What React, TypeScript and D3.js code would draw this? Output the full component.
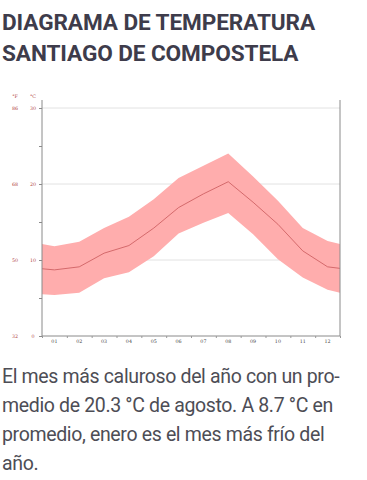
import React, { useRef, useEffect } from 'react';
import * as d3 from 'd3';

// month positions; 0.5 and 12.5 are the chart edges
const positions = [0.5, 1, 2, 3, 4, 5, 6, 7, 8, 9, 10, 11, 12, 12.5];
const monthLabels = ['01', '02', '03', '04', '05', '06', '07', '08', '09', '10', '11', '12'];
const meanTemp = [8.85, 8.7, 9.1, 10.9, 11.9, 14.2, 16.9, 18.7, 20.3, 17.6, 14.7, 11.2, 9.1, 8.9];
const maxTemp = [12.1, 11.8, 12.4, 14.2, 15.7, 18.0, 20.8, 22.4, 24.0, 21.0, 17.8, 14.2, 12.5, 12.1];
const minTemp = [5.5, 5.4, 5.7, 7.6, 8.4, 10.5, 13.5, 14.9, 16.2, 13.4, 10.1, 7.7, 6.1, 5.7];
const celsiusTicks = [0, 10, 20, 30];
const fahrenheitLabels = ['32', '50', '68', '86'];

const titleLines = ['DIAGRAMA DE TEMPERATURA', 'SANTIAGO DE COMPOSTELA'];
const bodyLines = [
  'El mes más caluroso del año con un pro-',
  'medio de 20.3 °C de agosto. A 8.7 °C en',
  'promedio, enero es el mes más frío del',
  'año.',
];

const App = () => {
  const svgRef = useRef<SVGSVGElement>(null);

  useEffect(() => {
    const svg = d3.select(svgRef.current);
    svg.selectAll('*').remove();

    const left = 42, right = 340, top = 100, bottom = 336;
    const x = d3.scaleLinear().domain([0.5, 12.5]).range([left, right]);
    const y = d3.scaleLinear().domain([0, 30]).range([bottom, 108]);

    // title
    svg.append('g').selectAll('text')
      .data(titleLines)
      .enter().append('text')
      .attr('x', 2)
      .attr('y', (d, i) => 29.5 + i * 31)
      .attr('font-family', 'Roboto')
      .attr('font-weight', 'bold')
      .attr('font-size', 22.6)
      .attr('letter-spacing', -0.1)
      .attr('fill', '#3e3c4b')
      .text(d => d);

    // grid lines
    svg.append('g').selectAll('line')
      .data([10, 20, 30])
      .enter().append('line')
      .attr('x1', left).attr('x2', right)
      .attr('y1', d => y(d)).attr('y2', d => y(d))
      .attr('stroke', '#e2e2e2')
      .attr('stroke-width', 1);

    // band
    const idx = d3.range(positions.length);
    const area = d3.area<number>()
      .x(i => x(positions[i]))
      .y0(i => y(minTemp[i]))
      .y1(i => y(maxTemp[i]));
    svg.append('path')
      .datum(idx)
      .attr('d', area)
      .attr('fill', '#ffadad');

    const line = d3.line<number>()
      .x(i => x(positions[i]))
      .y(i => y(meanTemp[i]));
    svg.append('path')
      .datum(idx)
      .attr('d', line)
      .attr('fill', 'none')
      .attr('stroke', '#c9585a')
      .attr('stroke-width', 0.8);

    // frame
    const frame = svg.append('g').attr('stroke', '#8a8a8a').attr('stroke-width', 1);
    frame.append('line').attr('x1', left).attr('x2', left).attr('y1', top).attr('y2', bottom);
    frame.append('line').attr('x1', right).attr('x2', right).attr('y1', top).attr('y2', bottom);
    frame.append('line').attr('x1', left).attr('x2', right).attr('y1', bottom).attr('y2', bottom);

    // left ticks
    const yAxis = svg.append('g')
      .attr('transform', `translate(${left},0)`)
      .call(d3.axisLeft(y).tickValues(d3.range(0, 31, 5)).tickSize(3).tickFormat(() => ''));
    yAxis.select('.domain').remove();
    yAxis.selectAll('line').attr('stroke', '#8a8a8a');

    // bottom ticks at month boundaries
    const xAxis = svg.append('g')
      .attr('transform', `translate(0,${bottom})`)
      .call(d3.axisBottom(x).tickValues(d3.range(0.5, 13, 1)).tickSize(2).tickFormat(() => ''));
    xAxis.select('.domain').remove();
    xAxis.selectAll('line').attr('stroke', '#999');

    const labelFont = { family: 'DejaVu Serif', size: 4.8 };

    svg.append('g').selectAll('text')
      .data(monthLabels)
      .enter().append('text')
      .attr('x', (d, i) => x(i + 1))
      .attr('y', bottom + 7)
      .attr('text-anchor', 'middle')
      .attr('font-family', labelFont.family)
      .attr('font-size', labelFont.size)
      .attr('fill', '#444')
      .text(d => d);

    svg.append('g').selectAll('text')
      .data(celsiusTicks)
      .enter().append('text')
      .attr('x', 33)
      .attr('y', d => y(d) + 1.6)
      .attr('text-anchor', 'middle')
      .attr('font-family', labelFont.family)
      .attr('font-size', labelFont.size)
      .attr('fill', '#b0443f')
      .text(d => d);

    svg.append('g').selectAll('text')
      .data(fahrenheitLabels)
      .enter().append('text')
      .attr('x', 15)
      .attr('y', (d, i) => y(celsiusTicks[i]) + 1.6)
      .attr('text-anchor', 'middle')
      .attr('font-family', labelFont.family)
      .attr('font-size', labelFont.size)
      .attr('fill', '#b0443f')
      .text(d => d);

    svg.append('g').selectAll('text')
      .data(['°F', '°C'])
      .enter().append('text')
      .attr('x', (d, i) => (i === 0 ? 15 : 33))
      .attr('y', 98)
      .attr('text-anchor', 'middle')
      .attr('font-family', labelFont.family)
      .attr('font-size', labelFont.size)
      .attr('fill', '#b0443f')
      .text(d => d);

    // description
    svg.append('g').selectAll('text')
      .data(bodyLines)
      .enter().append('text')
      .attr('x', 2)
      .attr('y', (d, i) => 383 + i * 29)
      .attr('font-family', 'Roboto')
      .attr('font-size', 19.5)
      .attr('letter-spacing', -0.35)
      .attr('fill', '#4d4d55')
      .text(d => d);
  }, []);

  return (
    <svg
      ref={svgRef}
      width={367}
      height={480}
      style={{ position: 'absolute', left: 0, top: 0, background: '#fff' }}
    />
  );
};

export default App;
